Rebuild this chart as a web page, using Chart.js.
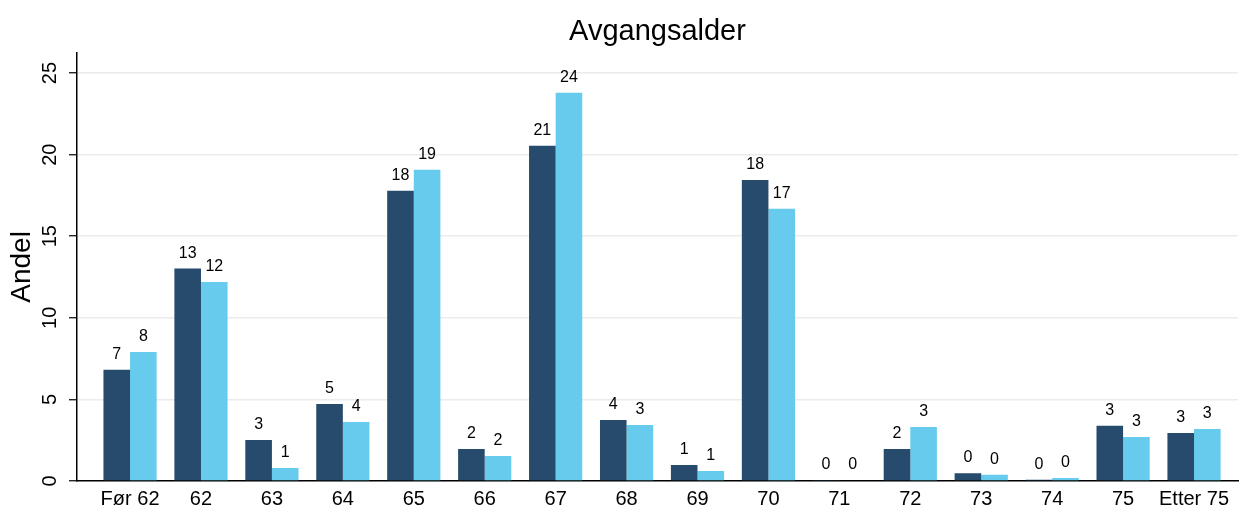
<!DOCTYPE html>
<html>
<head>
<meta charset="utf-8">
<script src="https://cdn.jsdelivr.net/npm/chart.js@4"></script>
<style>
html,body{margin:0;padding:0;background:#fff;}
#wrap{width:1239px;height:507px;}
</style>
</head>
<body>
<div id="wrap"><canvas id="c" width="1239" height="507"></canvas></div>
<script>
const categories = ['Før 62','62','63','64','65','66','67','68','69','70','71','72','73','74','75','Etter 75'];
const seriesA = [6.82, 13.02, 2.51, 4.72, 17.78, 1.96, 20.54, 3.74, 0.98, 18.45, 0.06, 1.96, 0.48, 0.08, 3.39, 2.94];
const seriesB = [7.91, 12.20, 0.80, 3.62, 19.07, 1.53, 23.79, 3.43, 0.61, 16.68, 0.05, 3.31, 0.39, 0.18, 2.70, 3.19];
const yTickValues = [0, 5, 10, 15, 20, 25];

const FONT = '"Liberation Sans", Arial, Helvetica, sans-serif';

const valueLabels = {
  id: 'valueLabels',
  afterDatasetsDraw(chart) {
    const ctx = chart.ctx;
    ctx.save();
    ctx.font = '16px ' + FONT;
    ctx.fillStyle = '#000';
    ctx.textAlign = 'center';
    ctx.textBaseline = 'alphabetic';
    chart.data.datasets.forEach((ds, di) => {
      const meta = chart.getDatasetMeta(di);
      meta.data.forEach((el, i) => {
        const v = ds.data[i].y;
        ctx.fillText(String(Math.round(v)), el.x, el.y - 11);
      });
    });
    ctx.restore();
  }
};

new Chart(document.getElementById('c'), {
  type: 'bar',
  data: {
    datasets: [
      { label: 'A', data: seriesA.map((v, i) => ({x: i, y: v})), backgroundColor: '#264b6c', borderWidth: 0, categoryPercentage: 0.75, barPercentage: 1.0 },
      { label: 'B', data: seriesB.map((v, i) => ({x: i, y: v})), backgroundColor: '#66cbec', borderWidth: 0, categoryPercentage: 0.75, barPercentage: 1.0 }
    ]
  },
  options: {
    responsive: false,
    animation: false,
    devicePixelRatio: 1,
    layout: { padding: { left: 0, right: 1, top: 0, bottom: 0 } },
    plugins: {
      legend: { display: false },
      tooltip: { enabled: false },
      title: {
        display: true,
        text: 'Avgangsalder',
        fullSize: false,
        color: '#000',
        font: { family: FONT, size: 29, weight: 'normal', lineHeight: 1.2 },
        padding: { top: 15, bottom: 3 }
      }
    },
    scales: {
      x: {
        type: 'linear',
        offset: false,
        min: -0.748,
        max: 15.62,
        grid: { display: false, drawTicks: false, offset: false },
        border: { display: true, color: '#000', width: 1.5 },
        ticks: {
          stepSize: 1,
          includeBounds: false,
          autoSkip: false,
          maxRotation: 0,
          minRotation: 0,
          padding: 6,
          color: '#000',
          font: { family: FONT, size: 20 },
          callback: (v) => Number.isInteger(v) && v >= 0 && v < categories.length ? categories[v] : ''
        },
        afterFit: (s) => { s.height = 26; }
      },
      y: {
        min: 0,
        max: 26.24,
        grid: { color: '#ebebeb', lineWidth: 1.5, tickColor: '#000', tickLength: 8, tickWidth: 1.2 },
        border: { display: true, color: '#000', width: 1.5 },
        ticks: {
          stepSize: 5,
          includeBounds: false,
          minRotation: 90,
          maxRotation: 90,
          crossAlign: 'center',
          padding: 7.5,
          color: '#000',
          font: { family: FONT, size: 20 },
          callback: (v) => yTickValues.includes(v) ? String(v) : ''
        },
        title: {
          display: true,
          text: 'Andel',
          color: '#000',
          font: { family: FONT, size: 28 },
          padding: { top: 5, bottom: 0 }
        },
        afterFit: (s) => { s.width = 77; }
      }
    }
  },
  plugins: [valueLabels]
});
</script>
</body>
</html>
